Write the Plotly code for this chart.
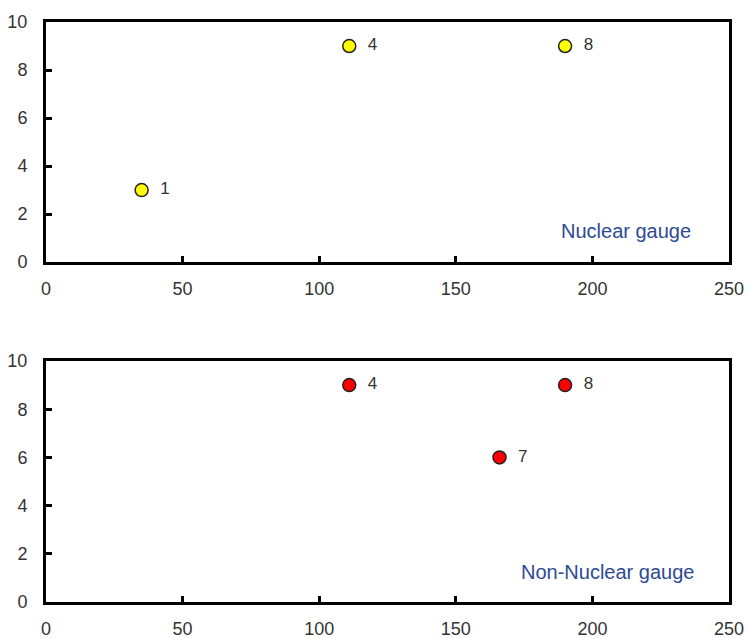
import plotly.graph_objects as go
from plotly.subplots import make_subplots

nuc_x = [35, 111, 190]
nuc_y = [3, 9, 9]
nuc_labels = ["1", "4", "8"]

non_x = [111, 166, 190]
non_y = [9, 6, 9]
non_labels = ["4", "7", "8"]

x_ticks = [0, 50, 100, 150, 200, 250]
y_ticks = [0, 2, 4, 6, 8, 10]

fig = make_subplots(rows=2, cols=1, vertical_spacing=0.17)

FAM = "Liberation Sans, Arial, sans-serif"
font = dict(family=FAM, size=18, color="#333333")
pt_font = dict(family=FAM, size=17, color="#333333")

fig.add_trace(go.Scatter(
    x=nuc_x, y=nuc_y, mode="markers+text",
    text=["  " + t for t in nuc_labels], textposition="middle right",
    textfont=pt_font,
    marker=dict(size=13, color="#FFFF00", line=dict(color="#222222", width=1.5)),
    showlegend=False, cliponaxis=False), row=1, col=1)

fig.add_trace(go.Scatter(
    x=non_x, y=non_y, mode="markers+text",
    text=["  " + t for t in non_labels], textposition="middle right",
    textfont=pt_font,
    marker=dict(size=13, color="#FF0000", line=dict(color="#222222", width=1.5)),
    showlegend=False, cliponaxis=False), row=2, col=1)

axis_common = dict(showline=True, linecolor="black", linewidth=3, mirror=True,
                   ticks="inside", ticklen=6, tickwidth=3, tickcolor="black",
                   showgrid=False, zeroline=False, tickfont=font, automargin=False)

for r in (1, 2):
    fig.update_xaxes(range=[0, 250], tickvals=x_ticks, ticklabelstandoff=8, **axis_common, row=r, col=1)
    fig.update_yaxes(range=[0, 10], tickvals=y_ticks, ticklabelstandoff=12, **axis_common, row=r, col=1)

fig.update_layout(
    width=749, height=638,
    margin=dict(l=46, r=20, t=22, b=36),
    plot_bgcolor="white", paper_bgcolor="white",
    font=font,
)
fig.update_layout(yaxis=dict(domain=[0.586, 1.0]), yaxis2=dict(domain=[0.0, 0.4155]))

ann_font = dict(family=FAM, size=20, color="#2E4A94")
fig.add_annotation(x=237, y=1.3, xref="x", yref="y", text="Nuclear gauge", showarrow=False,
                   xanchor="right", font=ann_font)
fig.add_annotation(x=238, y=1.25, xref="x2", yref="y2", text="Non-Nuclear gauge", showarrow=False,
                   xanchor="right", font=ann_font)

fig.write_html("out.html", config={"displayModeBar": False},
               post_script="document.body.style.margin='0';document.body.style.overflow='hidden';")
